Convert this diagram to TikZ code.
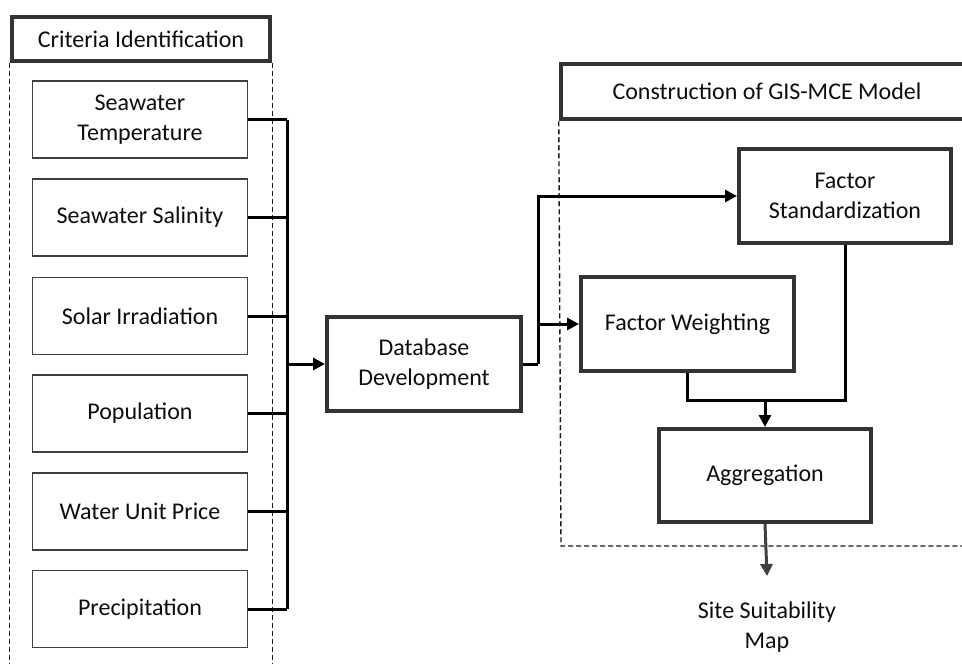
\documentclass[tikz,border=0pt]{standalone}
\usepackage{fontspec}
\setmainfont{Carlito}
\usetikzlibrary{arrows.meta}

\begin{document}
\begin{tikzpicture}[x=1pt,y=-1pt,
    every node/.style={font=\fontsize{24}{29.5}\selectfont, align=center, text=black!95},
    crit/.style={draw=black!75, line width=1.2pt, minimum width=215pt, minimum height=77pt, inner sep=0pt},
    stage/.style={draw=black!80, line width=4pt, minimum width=212pt, minimum height=94pt, inner sep=0pt},
    head/.style={draw=black!80, line width=4.5pt, inner sep=0pt},
    frame/.style={black!90, line width=1.4pt, dash pattern=on 5pt off 3pt},
    link/.style={black, line width=3pt},
    arr/.style={link, -{Triangle[length=12pt,width=12pt]}}]
  \useasboundingbox (0,0) rectangle (962,664);

  % left column
  \node[head, minimum width=258pt, minimum height=44pt] (crithead) at (141,39) {Criteria Identification};
  \draw[frame] (crithead.south west) -- (crithead.south west |- 0,664);
  \draw[frame] (crithead.south east) -- (crithead.south east |- 0,664);

  \node[crit] (c1) at (140,119.5) {Seawater\\Temperature};
  \node[crit] (c2) at (140,217.5) {Seawater Salinity};
  \node[crit] (c3) at (140,316) {Solar Irradiation};
  \node[crit] (c4) at (140,413.5) {Population};
  \node[crit] (c5) at (140,511.5) {Water Unit Price};
  \node[crit] (c6) at (140,609) {Precipitation};

  \node[stage, minimum width=194pt] (db) at (424,364) {Database\\Development};

  \coordinate (bus) at (287,0);
  \foreach \i in {1,...,6}
    \draw[link] (c\i.east) -- (c\i.east -| bus);
  \draw[link] (c1.east -| bus) -- (c6.east -| bus);
  \draw[arr] (db.west -| bus) -- (db.west);

  % right block
  \node[head, minimum width=412pt, minimum height=55pt] (conhead) at (767,91.5) {Construction of GIS-MCE Model};
  \coordinate (framecorner) at (561,546);
  \draw[frame] (conhead.south west) -- (framecorner) -- (framecorner -| conhead.east);

  \node[stage] (fstd) at (845,196) {Factor\\Standardization};
  \node[stage, minimum width=213pt] (fwgt) at (687.5,324) {Factor Weighting};
  \node[stage, minimum height=93pt] (agg) at (765,475.5) {Aggregation};

  \coordinate (split) at (538,0);
  \draw[link] (db.east) -- (db.east -| split);
  \draw[arr] (db.east -| split) |- (fstd.west);
  \draw[arr] (split |- fwgt.west) -- (fwgt.west);

  \coordinate (join) at (0,400);
  \draw[link] (fwgt.south) -- (fwgt.south |- join) -- (fstd.south |- join) -- (fstd.south);
  \draw[arr] (agg.north |- join) -- (agg.north);

  \node (site) at (767,627) {Site Suitability\\Map};
  \coordinate (mapin) at (767,576);
  \draw[arr, black!75] (agg.south) -- (mapin);
\end{tikzpicture}
\end{document}
